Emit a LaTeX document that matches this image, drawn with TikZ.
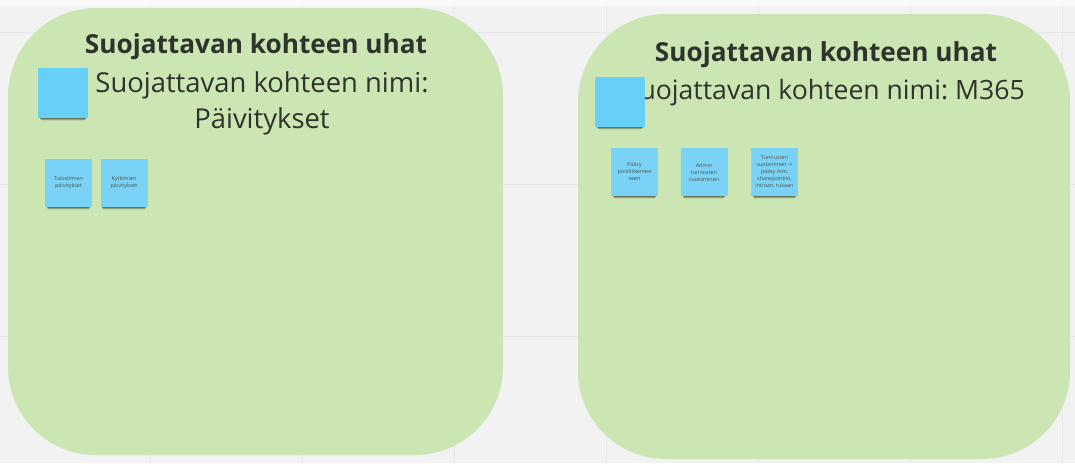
\documentclass[tikz,border=0pt]{standalone}
\usepackage{fontspec}
\setmainfont{Open Sans}
\frenchspacing
\begin{document}
\begin{tikzpicture}[x=1pt,y=-1pt,
  panel/.style={fill=panelgreen,draw=none,rounded corners=88pt},
  title/.style={font=\fontsize{26.2}{30}\selectfont\bfseries,text=inkdark,inner sep=0pt},
  subtitle/.style={font=\fontsize{27.4}{36}\selectfont,text=inkdark,inner sep=0pt,align=center},
  bignote/.style={fill=notebig,draw=none,minimum width=50pt,minimum height=50pt,inner sep=0pt},
  note/.style={fill=notesmall,draw=none,minimum width=47pt,minimum height=48pt,inner sep=0pt,
    align=center,font=\fontsize{5.4}{7}\selectfont,text=inkdark!85},
]
\definecolor{panelgreen}{HTML}{CBE5B3}
\definecolor{canvas}{HTML}{F2F2F2}
\definecolor{gridline}{HTML}{E7E7E7}
\definecolor{inkdark}{HTML}{2E332C}
\definecolor{notebig}{HTML}{66D0F8}
\definecolor{notesmall}{HTML}{7AD3F6}

% canvas and faint board grid
\useasboundingbox (0,0) rectangle (1075,463);
\fill[canvas] (0,0) rectangle (1075,463);
\fill[white!60!canvas] (0,0) rectangle (1075,6);
\foreach \gx in {-2,150,302,454,606,758,910,1062}
  \draw[gridline,line width=0.6pt] (\gx,6) -- (\gx,463);
\foreach \gy in {32,184,336}
  \draw[gridline,line width=0.6pt] (0,\gy) -- (1075,\gy);

% two threat panels
\fill[panel] (8,8) rectangle (503,455);
\fill[panel] (578,14) rectangle (1070,459);

% soft shadow under a sticky note: #1 = left, #2 = right, #3 = bottom edge
\newcommand{\noteshadow}[3]{%
  \foreach \k/\op in {2.6/0.10,1.8/0.18,1.0/0.30}
    \fill[black,opacity=\op,rounded corners=1.5pt] (#1+2,#3-1) rectangle (#2-2,#3+\k);}

% left panel
\node[title] (tl) at (256,47) {Suojattavan kohteen uhat};
\node[subtitle] (sl) at (262,103) {Suojattavan kohteen nimi:\\Päivitykset};
\noteshadow{38}{88}{118}
\node[bignote] (bl) at (63,93) {};

\noteshadow{45}{92}{207}
\node[note] (n1) at (68.5,182.5) {Tulostimien\\päivitykset};
\noteshadow{100}{148}{207}
\node[note] (n2) at (124,182.5) {Kytkimien\\päivitykset};

% right panel
\node[title] (tr) at (826,55) {Suojattavan kohteen uhat};
\node[subtitle,font=\fontsize{26.6}{36}\selectfont,anchor=base east] (sr) at (1025,99) {Suojattavan kohteen nimi: M365};
\noteshadow{595}{645}{127}
\node[bignote] (br) at (620,102) {};

\noteshadow{611}{658}{196}
\node[note] (n3) at (634.5,172) {Pääsy\\postiliikentee\\seen};
\noteshadow{681}{727}{196}
\node[note] (n4) at (704,172) {Admin\\tunnusten\\vuotaminen};
\noteshadow{751}{798}{196}
\node[note] (n5) at (774.5,172) {Tunnusten\\vuotaminen ->\\pääsy mm.\\sharepointiin,\\intraan, tukaan};
\end{tikzpicture}
\end{document}
